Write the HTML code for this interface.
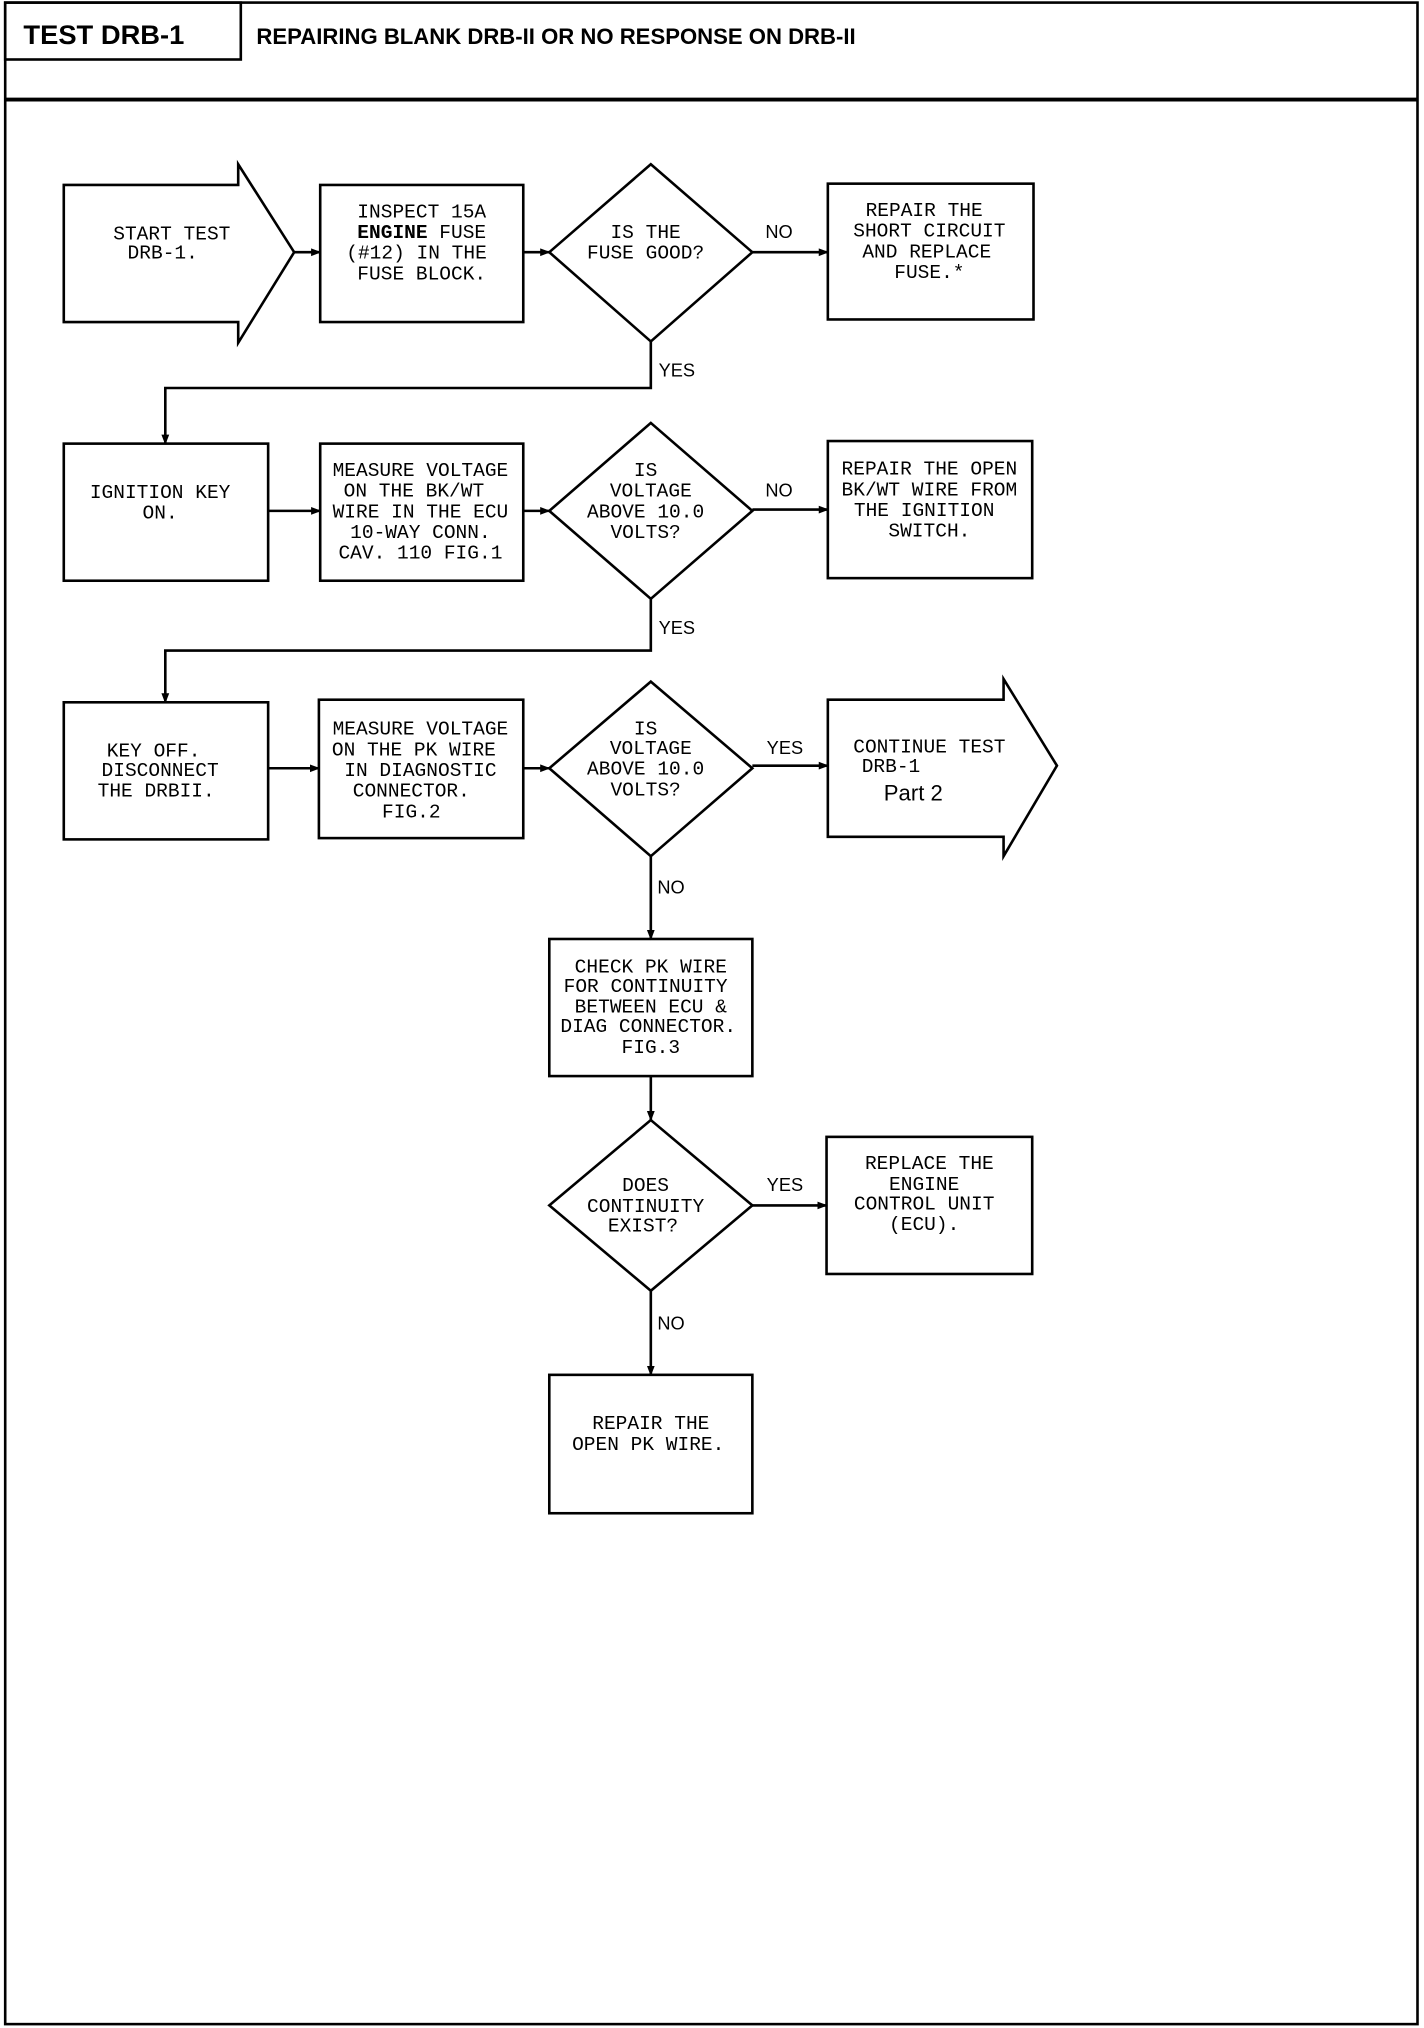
<!DOCTYPE html>
<html><head><meta charset="utf-8"><style>
html,body{margin:0;padding:0;background:#fff;}
svg{display:block;}
text{font-family:"Liberation Mono",monospace;font-size:15px;fill:#000;}
.t{text-anchor:middle;}
.l{font-family:"Liberation Sans",sans-serif;font-size:14px;}
</style></head><body>
<svg width="1424" height="2028" viewBox="0 0 1094 1568" preserveAspectRatio="none" xmlns="http://www.w3.org/2000/svg">
<defs><marker id="a" markerWidth="8" markerHeight="8" refX="7" refY="4" orient="auto" markerUnits="userSpaceOnUse"><path d="M0,1 L8,4 L0,7 Z" fill="#000"/></marker></defs>
<g fill="none" stroke="#000" stroke-width="2">
<rect x="4" y="2" width="1085" height="1563"/>
<line x1="4" y1="77" x2="1089" y2="77" stroke-width="3"/>
<rect x="4" y="2" width="181" height="44"/>
<!-- row1 -->
<path d="M49,143 H183 V127 L226,195 L183,265 V249 H49 Z"/>
<rect x="246" y="143" width="156" height="106"/>
<path d="M500,127 L578,195 L500,264 L422,195 Z"/>
<rect x="636" y="142" width="158" height="105"/>
<line x1="226" y1="195" x2="246" y2="195" marker-end="url(#a)"/>
<line x1="402" y1="195" x2="422" y2="195" marker-end="url(#a)"/>
<line x1="578" y1="195" x2="636" y2="195" marker-end="url(#a)"/>
<polyline points="500,264 500,300 127,300 127,343" marker-end="url(#a)"/>
<!-- row2 -->
<rect x="49" y="343" width="157" height="106"/>
<rect x="246" y="343" width="156" height="106"/>
<path d="M500,327 L578,395 L500,463 L422,395 Z"/>
<rect x="636" y="341" width="157" height="106"/>
<line x1="206" y1="395" x2="246" y2="395" marker-end="url(#a)"/>
<line x1="402" y1="395" x2="422" y2="395" marker-end="url(#a)"/>
<line x1="578" y1="394" x2="636" y2="394" marker-end="url(#a)"/>
<polyline points="500,463 500,503 127,503 127,543" marker-end="url(#a)"/>
<!-- row3 -->
<rect x="49" y="543" width="157" height="106"/>
<rect x="245" y="541" width="157" height="107"/>
<path d="M500,527 L578,594 L500,662 L422,594 Z"/>
<path d="M636,541 H771 V525 L812,592 L771,662 V647 H636 Z"/>
<line x1="206" y1="594" x2="245" y2="594" marker-end="url(#a)"/>
<line x1="402" y1="594" x2="422" y2="594" marker-end="url(#a)"/>
<line x1="578" y1="592" x2="636" y2="592" marker-end="url(#a)"/>
<line x1="500" y1="662" x2="500" y2="726" marker-end="url(#a)"/>
<rect x="422" y="726" width="156" height="106"/>
<line x1="500" y1="832" x2="500" y2="866" marker-end="url(#a)"/>
<path d="M500,866 L578,932 L500,998 L422,932 Z"/>
<rect x="635" y="879" width="158" height="106"/>
<line x1="578" y1="932" x2="635" y2="932" marker-end="url(#a)"/>
<line x1="500" y1="998" x2="500" y2="1063" marker-end="url(#a)"/>
<rect x="422" y="1063" width="156" height="107"/>
</g>
<text x="18" y="34" style="font-family:'Liberation Sans',sans-serif;font-weight:bold;font-size:21px">TEST DRB-1</text>
<text x="197" y="34" style="font-family:'Liberation Sans',sans-serif;font-weight:bold;font-size:17px">REPAIRING BLANK DRB-II OR NO RESPONSE ON DRB-II</text>

<text class="t" x="132" y="185">START TEST</text><text class="t" x="125" y="200">DRB-1.</text>
<text class="t" x="324" y="168">INSPECT 15A</text><text class="t" x="324" y="184"><tspan font-weight="bold">ENGINE</tspan> FUSE</text><text class="t" x="320" y="200">(#12) IN THE</text><text class="t" x="324" y="216">FUSE BLOCK.</text>
<text class="t" x="496" y="184">IS THE</text><text class="t" x="496" y="200">FUSE GOOD?</text>
<text class="l" x="588" y="184">NO</text>
<text class="t" x="710" y="167">REPAIR THE</text><text class="t" x="714" y="183">SHORT CIRCUIT</text><text class="t" x="712" y="199">AND REPLACE</text><text class="t" x="714" y="215">FUSE.*</text>
<text class="l" x="506" y="291">YES</text>

<text class="t" x="123" y="385">IGNITION KEY</text><text class="t" x="123" y="401">ON.</text>
<text class="t" x="323" y="368">MEASURE VOLTAGE</text><text class="t" x="318" y="384">ON THE BK/WT</text><text class="t" x="323" y="400">WIRE IN THE ECU</text><text class="t" x="323" y="416">10-WAY CONN.</text><text class="t" x="323" y="432">CAV. 110 FIG.1</text>
<text class="t" x="496" y="368">IS</text><text class="t" x="500" y="384">VOLTAGE</text><text class="t" x="496" y="400">ABOVE 10.0</text><text class="t" x="496" y="416">VOLTS?</text>
<text class="l" x="588" y="384">NO</text>
<text class="t" x="714" y="367">REPAIR THE OPEN</text><text class="t" x="714" y="383">BK/WT WIRE FROM</text><text class="t" x="710" y="399">THE IGNITION</text><text class="t" x="714" y="415">SWITCH.</text>
<text class="l" x="506" y="490">YES</text>

<text class="t" x="118" y="585">KEY OFF.</text><text class="t" x="123" y="600">DISCONNECT</text><text class="t" x="120" y="616">THE DRBII.</text>
<text class="t" x="323" y="568">MEASURE VOLTAGE</text><text class="t" x="318" y="584">ON THE PK WIRE</text><text class="t" x="323" y="600">IN DIAGNOSTIC</text><text class="t" x="316" y="616">CONNECTOR.</text><text class="t" x="316" y="632">FIG.2</text>
<text class="t" x="496" y="568">IS</text><text class="t" x="500" y="583">VOLTAGE</text><text class="t" x="496" y="599">ABOVE 10.0</text><text class="t" x="496" y="615">VOLTS?</text>
<text class="l" x="589" y="583">YES</text>
<text class="t" x="714" y="582">CONTINUE TEST</text><text x="662" y="597">DRB-1</text>
<text x="679" y="619" style="font-family:'Liberation Sans',sans-serif;font-size:17px">Part 2</text>
<text class="l" x="505" y="691">NO</text>

<text class="t" x="500" y="752">CHECK PK WIRE</text><text class="t" x="496" y="767">FOR CONTINUITY</text><text class="t" x="500" y="783">BETWEEN ECU &amp;</text><text class="t" x="498" y="798">DIAG CONNECTOR.</text><text class="t" x="500" y="814">FIG.3</text>
<text class="t" x="496" y="921">DOES</text><text class="t" x="496" y="937">CONTINUITY</text><text class="t" x="494" y="952">EXIST?</text>
<text class="l" x="589" y="921">YES</text>
<text class="t" x="714" y="904">REPLACE THE</text><text class="t" x="710" y="920">ENGINE</text><text class="t" x="710" y="935">CONTROL UNIT</text><text class="t" x="710" y="951">(ECU).</text>
<text class="l" x="505" y="1028">NO</text>
<text class="t" x="500" y="1105">REPAIR THE</text><text class="t" x="498" y="1121">OPEN PK WIRE.</text>
</svg>
</body></html>
